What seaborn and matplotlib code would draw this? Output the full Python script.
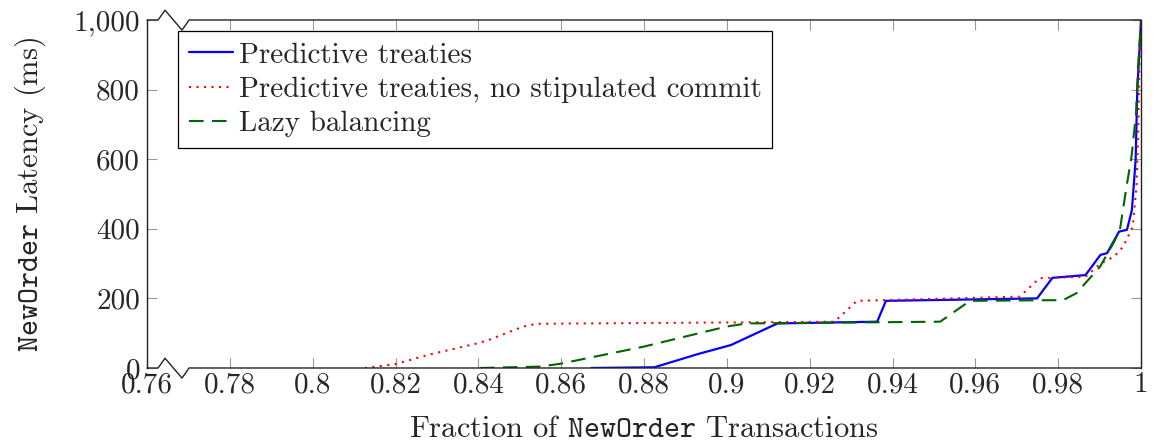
import numpy as np
import pandas as pd
import matplotlib
matplotlib.use("Agg")
import matplotlib.pyplot as plt
import seaborn as sns

# valores (fração acumulada x latência em ms)
pt_x = [0.8673, 0.8825, 0.8930, 0.9010, 0.9122, 0.9363, 0.9384, 0.9749, 0.9786,
        0.9866, 0.9902, 0.9918, 0.9947, 0.9966, 0.9978, 0.9987, 0.9991, 1.0]
pt_y = [0, 2, 40, 66, 128, 133, 193, 200, 259, 267, 325, 330, 392, 397, 454, 598, 799, 1000]

nsc_x = [0.8126, 0.8199, 0.8283, 0.8388, 0.8424, 0.8508, 0.8540, 0.9260, 0.9314,
         0.9707, 0.9755, 0.9866, 0.9903, 0.9935, 0.9957, 0.9980, 0.9989, 0.9993,
         0.9996, 1.0]
nsc_y = [0, 11, 39, 68, 80, 119, 127, 133, 193, 205, 258, 262, 301, 320, 349, 406,
         521, 674, 866, 1000]

lazy_x = [0.8404, 0.8549, 0.8597, 0.8798, 0.8999, 0.9048, 0.9515, 0.9587, 0.9812,
          0.9844, 0.9901, 0.9933, 0.9949, 0.9965, 0.9977, 0.9988, 0.9993, 1.0]
lazy_y = [0, 4, 12, 61, 119, 128, 133, 193, 195, 215, 291, 358, 397, 521, 607, 732,
          866, 1000]

x_ticks = [0.76, 0.78, 0.80, 0.82, 0.84, 0.86, 0.88, 0.90, 0.92, 0.94, 0.96, 0.98, 1.0]
x_labels = ["0.76", "0.78", "0.8", "0.82", "0.84", "0.86", "0.88", "0.9", "0.92",
            "0.94", "0.96", "0.98", "1"]
y_ticks = [0, 200, 400, 600, 800, 1000]
y_labels = ["0", "200", "400", "600", "800", "1,000"]

sns.set_style("ticks")
plt.rcParams["font.family"] = ["cmr10", "DejaVu Serif"]
plt.rcParams["mathtext.fontset"] = "cm"
plt.rcParams["axes.formatter.use_mathtext"] = True

fig = plt.figure(figsize=(11.55, 4.48), dpi=100)
ax = fig.add_axes([0.1273, 0.1786, 0.8606, 0.7768])

sns.lineplot(x=pt_x, y=pt_y, ax=ax, color="#0000ff", lw=1.6, sort=False,
             estimator=None, label="Predictive treaties")
sns.lineplot(x=nsc_x, y=nsc_y, ax=ax, color="#ff0000", lw=1.5, sort=False,
             estimator=None, label="Predictive treaties, no stipulated commit")
sns.lineplot(x=lazy_x, y=lazy_y, ax=ax, color="#006400", lw=1.5, sort=False,
             estimator=None, label="Lazy balancing")
ax.lines[1].set_dashes((1, 2.6))
ax.lines[2].set_dashes((7, 4))

ax.set_xlim(0.76, 1.0)
ax.set_ylim(0, 1000)
ax.set_xticks(x_ticks, labels=x_labels)
ax.set_yticks(y_ticks, labels=y_labels)
ax.tick_params(direction="in", length=7, width=0.8, color="#999999",
               labelsize=21, top=True, right=True, pad=5)
ax.tick_params(axis="x", pad=3)

# quebra do eixo (zigue-zague) em cima e embaixo
for s in ["top", "bottom"]:
    ax.spines[s].set_visible(False)
for s in ["left", "right"]:
    ax.spines[s].set_linewidth(1.0)
    ax.spines[s].set_color("#222222")
zx = [0, 0.0111, 0.0181, 0.0352, 0.0423, 1.0]
for base in [0, 1]:
    zy = [base, base, base + 0.028, base - 0.029, base, base]
    ax.plot(zx, zy, transform=ax.transAxes, color="#222222", lw=1.0,
            clip_on=False, zorder=5)

ax.set_xlabel(r"Fraction of $\mathtt{NewOrder}$ Transactions", fontsize=22, labelpad=12)
ax.set_ylabel(r"$\mathtt{NewOrder}$ Latency (ms)", fontsize=22, labelpad=18)

leg = ax.legend(loc="upper left", bbox_to_anchor=(0.031, 0.968), borderaxespad=0,
                prop={"size": 21}, frameon=True, fancybox=False, handlelength=1.5,
                handletextpad=0.2, borderpad=0.38, labelspacing=0.27)
leg.get_frame().set_edgecolor("black")
leg.get_frame().set_linewidth(0.9)
leg.get_frame().set_alpha(1)
leg.set_zorder(10)

fig.savefig("out.png", dpi=100)
